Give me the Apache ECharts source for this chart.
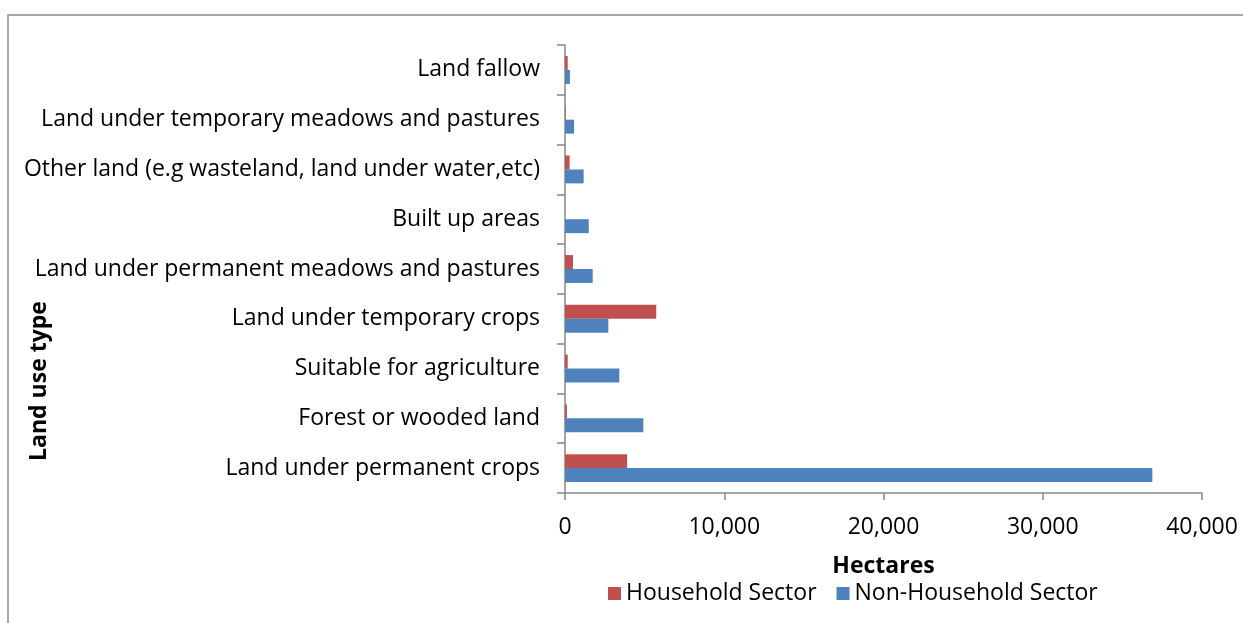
<!DOCTYPE html>
<html>
<head>
<meta charset="utf-8">
<script src="https://cdn.jsdelivr.net/npm/echarts@6/dist/echarts.min.js"></script>
<style>html,body{margin:0;padding:0;background:#fff;}#c{width:1243px;height:623px;}</style>
</head>
<body>
<div id="c"></div>
<script>
const categories = [
  "Land under permanent crops",
  "Forest or wooded land",
  "Suitable for agriculture",
  "Land under temporary crops",
  "Land under permanent meadows and pastures",
  "Built up areas",
  "Other land (e.g wasteland, land under water,etc)",
  "Land under temporary meadows and pastures",
  "Land fallow"
];
const householdSector = [3900, 120, 170, 5730, 500, 0, 290, 40, 170];
const nonHouseholdSector = [36880, 4920, 3410, 2720, 1740, 1490, 1170, 570, 310];
const xTicks = [0, 10000, 20000, 30000, 40000];

const FONT = 'Open Sans';
const FS = 23;
const chart = echarts.init(document.getElementById('c'));
chart.setOption({
  animation: false,
  backgroundColor: '#fff',
  textStyle: { fontFamily: FONT },
  grid: { left: 565, right: 41, top: 45, bottom: 130, containLabel: false },
  xAxis: {
    type: 'value', min: xTicks[0], max: xTicks[xTicks.length - 1], interval: 10000,
    name: 'Hectares', nameLocation: 'middle', nameGap: 62,
    nameTextStyle: { fontFamily: FONT, fontWeight: 'bold', fontSize: FS, color: '#000' },
    axisLine: { show: true, lineStyle: { color: '#868686', width: 1.5 } },
    axisTick: { show: true, length: 7, lineStyle: { color: '#868686', width: 1.5 } },
    splitLine: { show: false },
    axisLabel: { margin: 23, fontSize: FS, color: '#000', fontFamily: FONT,
      formatter: v => v.toLocaleString('en-US') }
  },
  yAxis: {
    type: 'category', data: categories,
    axisLine: { show: true, lineStyle: { color: '#868686', width: 1.5 } },
    axisTick: { show: true, length: 8, lineStyle: { color: '#868686', width: 1.5 } },
    axisLabel: { margin: 25, fontSize: FS, color: '#000', fontFamily: FONT, padding: [4, 0, 0, 0] }
  },
  legend: {
    data: ['Household Sector', 'Non-Household Sector'],
    left: 603, top: 577, itemWidth: 13, itemHeight: 13, itemGap: 20,
    icon: 'rect',
    textStyle: { fontSize: FS, color: '#000', fontFamily: FONT }
  },
  graphic: [
    { type: 'rect', shape: { x: 8, y: 15, width: 1300, height: 700 },
      style: { fill: 'none', stroke: '#8c8c8c', lineWidth: 1.5 }, silent: true, z: -1 },
    { type: 'text', x: 39, y: 381, rotation: Math.PI / 2,
      style: { text: 'Land use type', font: 'bold ' + FS + 'px "' + FONT + '"', fill: '#000',
        textAlign: 'center', textVerticalAlign: 'middle' } }
  ],
  series: [
    { name: 'Household Sector', type: 'bar', data: householdSector,
      itemStyle: { color: '#C0504D' }, barGap: '0%', barCategoryGap: '44%' },
    { name: 'Non-Household Sector', type: 'bar', data: nonHouseholdSector,
      itemStyle: { color: '#4F81BD' }, barGap: '0%', barCategoryGap: '44%' }
  ]
});
</script>
</body>
</html>
